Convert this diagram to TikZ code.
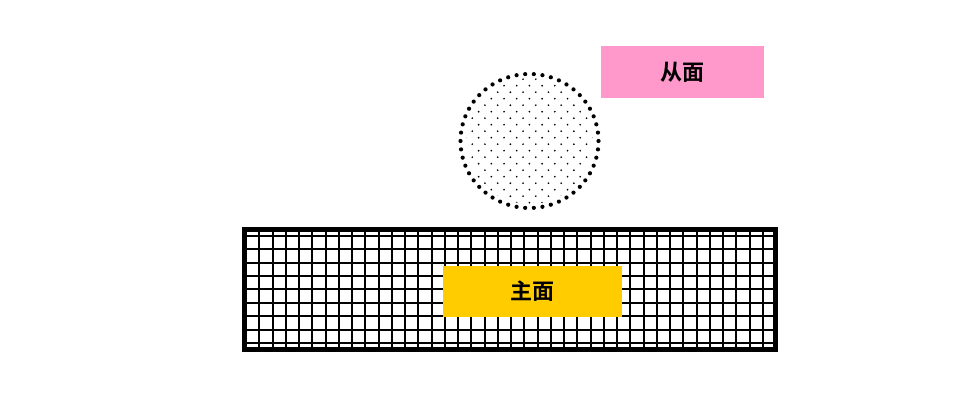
\documentclass[tikz,border=0pt]{standalone}
\usepackage{fontspec}
\usepackage{xcolor}
\newfontfamily\cjk{Noto Sans CJK SC Bold}
\definecolor{slavepink}{HTML}{FF99CC}
\definecolor{masteryellow}{HTML}{FFCC00}

\begin{document}
\begin{tikzpicture}[x=1pt,y=1pt,
  face/.style={inner sep=0,font=\cjk\fontsize{22}{22}\selectfont,text=black}]
\useasboundingbox (0,0) rectangle (960,417);
\begin{scope}
\clip (244.5,67.5) rectangle (775.5,187.5);
\foreach \i in {0,...,38} \draw[line width=2] (259.3+13.25*\i,60) -- (259.3+13.25*\i,195);
\foreach \j in {0,...,8} \draw[line width=2] (240,181-13.375*\j) -- (780,181-13.375*\j);
\end{scope}
\draw[line width=5] (244.5,67.5) rectangle (775.5,187.5);
\node[face,fill=masteryellow,minimum width=179,minimum height=51] (master) at (532.2,125.8) {主面};
\coordinate (ball) at (529.5,276);
\begin{scope}
\clip (ball) circle (63);
\foreach \j in {0,...,22} {
  \pgfmathsetmacro{\off}{mod(\j,2)*6.35}
  \foreach \i in {-3,...,11} \fill (504+\off+12.7*\i,305.3+39-6.5*\j) circle (0.95);
}
\end{scope}
\foreach \a in {0,7.2,...,356} \fill (ball) ++(\a:69 and 67) circle (2.1);
\node[face,fill=slavepink,minimum width=163,minimum height=52] (slave) at (682.5,344.5) {从面};
\end{tikzpicture}
\end{document}
